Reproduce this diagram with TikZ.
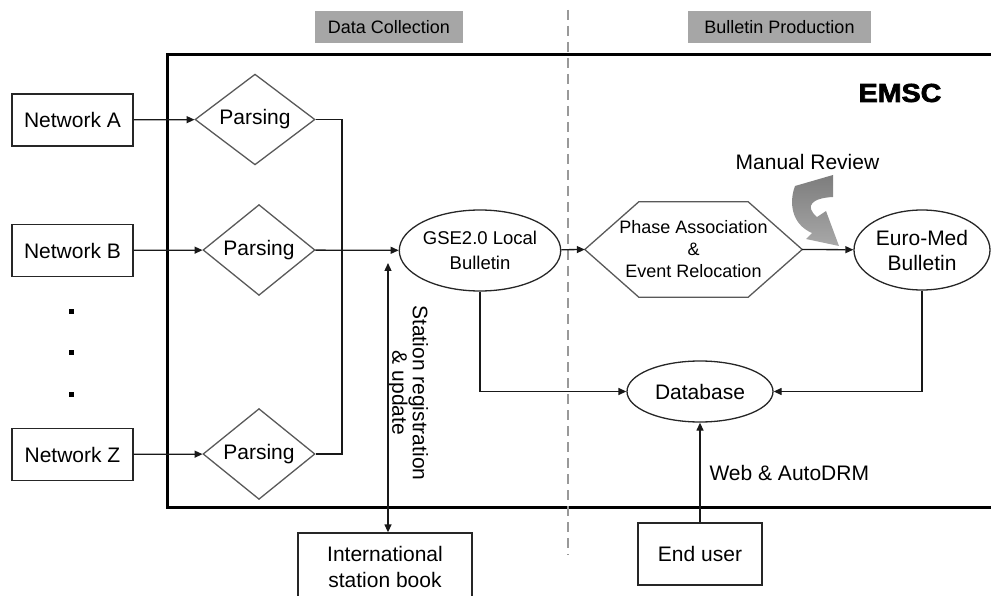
\documentclass[tikz,border=0pt]{standalone}
\usepackage{fontspec}
\setmainfont{Liberation Sans}
\newfontfamily\heavyfont[FakeBold=2.5]{Liberation Sans Bold}
\usetikzlibrary{shapes.geometric,arrows.meta}
\definecolor{mrtop}{RGB}{125,125,125}
\definecolor{mrbot}{RGB}{168,168,168}
\begin{document}
\begin{tikzpicture}[x=1pt,y=-1pt,
  txt/.style={font=\fontsize{21}{25}\selectfont},
  box/.style={draw=black!85, line width=1.3pt, inner sep=0pt, txt, align=center},
  dia/.style={diamond, draw=black!65, line width=1.3pt, inner sep=0pt, txt},
  ell/.style={ellipse, draw=black!85, line width=1.3pt, inner sep=0pt, align=center},
  conn/.style={line width=1.3pt, draw=black!90, -{Triangle[length=8pt,width=7pt]}},
  hdr/.style={fill=black!35, inner sep=0pt, font=\fontsize{18}{22}\selectfont},
  tip/.tip={Triangle[length=8pt,width=7pt]}
]
\useasboundingbox (0,0) rectangle (991,596);

% main frame
\draw[line width=3pt] (1000,55) -- (167,55) -- (167,507) -- (1000,507);
% dashed separator
\draw[black!40, line width=2pt, dash pattern=on 10pt off 6pt] (568,10) -- (568,555);

% headers
\node[hdr, minimum width=148pt, minimum height=32pt] (hdc) at (389,27) {Data Collection};
\node[hdr, minimum width=183pt, minimum height=32pt] (hbp) at (779.5,27) {Bulletin Production};

% EMSC label
\node[font=\fontsize{26}{30}\heavyfont, xscale=1.1] (emsc) at (900,93) {EMSC};

% networks
\node[box, minimum width=121pt, minimum height=52pt] (na) at (72.5,120) {Network A};
\node[box, minimum width=121pt, minimum height=52pt] (nb) at (72.5,250.5) {Network B};
\node[box, minimum width=121pt, minimum height=52pt] (nz) at (72.5,454.5) {Network Z};
\node[fill=black, minimum size=5pt, inner sep=0pt] (d1) at (71,311) {};
\node[fill=black, minimum size=5pt, inner sep=0pt] (d2) at (71,352) {};
\node[fill=black, minimum size=5pt, inner sep=0pt] (d3) at (71,394) {};

% parsing diamonds
\node[dia, minimum width=120pt, minimum height=77pt] (pa) at (255,119.5) {Parsing};
\node[dia, minimum width=112pt, minimum height=78pt] (pb) at (259,250) {Parsing};
\node[dia, minimum width=112pt, minimum height=78pt] (pz) at (259,454) {Parsing};

% GSE
\node[ell, minimum width=156pt, minimum height=81pt, font=\fontsize{18.5}{25}\selectfont] (gse) at (480,250.5) {GSE2.0 Local\\Bulletin};

% hexagon
\node[minimum width=217pt, minimum height=95pt, inner sep=0pt, align=center, font=\fontsize{18}{22}\selectfont] (hex) at (693.5,249.5) {Phase Association\\\&\\Event Relocation};
\draw[black!65, line width=1.3pt] (hex.west) -- ([xshift=54pt]hex.north west) -- ([xshift=-54pt]hex.north east) -- (hex.east) -- ([xshift=-54pt]hex.south east) -- ([xshift=54pt]hex.south west) -- cycle;

% Euro-Med
\node[ell, minimum width=136pt, minimum height=80pt, txt] (euro) at (922,250) {Euro-Med\\Bulletin};

% Database
\node[ell, minimum width=146pt, minimum height=61pt, txt] (db) at (700,391.5) {Database};

% End user
\node[box, minimum width=124pt, minimum height=62pt] (eu) at (700,554) {End user};

% International station book
\node[box, minimum width=174pt, minimum height=67pt, font=\fontsize{21}{26}\selectfont] (sb) at (385,566.5) {International\\station book};

% labels
\node[txt] (mr) at (807.5,162) {Manual Review};
\node[txt, anchor=west] (web) at (706,473) {Web \& AutoDRM};
\node[rotate=-90, align=center, font=\fontsize{21}{19}\selectfont] (stl) at (408,393) {Station registration\\\& update};

% connectors
\draw[conn] (na) -- (pa);
\draw[conn] (nb) -- (pb);
\draw[conn] (nz) -- (pz);
\coordinate (ja) at (342,119.5);
\coordinate (jz) at (342,454);
\draw[line width=1.3pt, black!90] (pa.east) -- (ja) -- (jz) -- (pz.east);
\draw[conn] (pb) -- (gse);
\coordinate (st) at (388,263);
\draw[line width=1.3pt, black!90, tip-tip] (st) -- (st |- sb.north);
\draw[conn] (gse) -- (hex.west);
\draw[conn] (hex.east) -- (euro);
\draw[conn] (gse.south) |- (db.west);
\draw[conn] (euro.south) |- (db.east);
\draw[conn] (eu) -- (db);

% manual review curved arrow
\shade[top color=mrtop, bottom color=mrbot]
  (795,186) -- (833,175) -- (833,197)
  .. controls (812,198) and (804,206) .. (817,217)
  -- (826,211) -- (839,246) -- (806,239) -- (812,233)
  .. controls (791,224) and (789,202) .. (795,186) -- cycle;
\end{tikzpicture}
\end{document}
